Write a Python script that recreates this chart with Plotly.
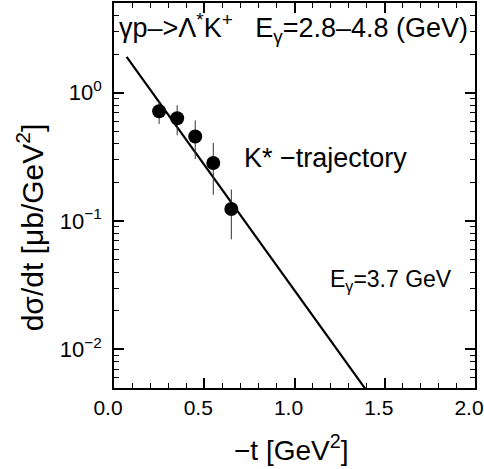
import numpy as np
import plotly.graph_objects as go

# data points
t_data = [0.25, 0.35, 0.45, 0.55, 0.65]
ds_data = [0.716, 0.632, 0.456, 0.283, 0.124]
ds_err = [0.145, 0.166, 0.152, 0.123, 0.052]

# K* trajectory model line (endpoints)
t_model = [0.07, 1.45]
ds_model = [1.90, 0.0038]

y_tickvals = [0.01, 0.1, 1.0]
y_ticktext = ["10<sup>−2</sup>", "10<sup>−1</sup>", "10<sup>0</sup>"]

FONT = "Liberation Sans, Arial, Helvetica, sans-serif"

fig = go.Figure()
fig.add_trace(go.Scatter(x=t_model, y=ds_model, mode="lines",
                         line=dict(color="black", width=2.2), showlegend=False))
fig.add_trace(go.Scatter(x=t_data, y=ds_data, mode="markers",
                         marker=dict(color="black", size=14),
                         error_y=dict(type="data", array=ds_err, color="#333",
                                      thickness=1, width=0),
                         showlegend=False))

fig.update_layout(
    width=484, height=469,
    margin=dict(l=114, r=9, t=3, b=81),
    plot_bgcolor="white", paper_bgcolor="white",
    font=dict(family=FONT, color="black", size=22),
    xaxis=dict(range=[0, 2], tickmode="linear", tick0=0, dtick=0.5, tickformat=".1f",
               ticks="inside", ticklen=10, tickwidth=1.5, tickcolor="black",
               showline=True, linecolor="black", linewidth=1.5, mirror="allticks",
               showgrid=False, zeroline=False, ticklabeloverflow="allow", automargin=False,
               ticklabelshift=-6,
               minor=dict(dtick=0.1, tick0=0, ticks="inside", ticklen=5, tickwidth=1.3,
                          tickcolor="black", showgrid=False),
               tickfont=dict(size=21)),
    yaxis=dict(type="log", range=[np.log10(0.005), np.log10(5)],
               tickvals=y_tickvals, ticktext=y_ticktext,
               ticks="inside", ticklen=10, tickwidth=1.5, tickcolor="black",
               showline=True, linecolor="black", linewidth=1.5, mirror="allticks",
               showgrid=False, zeroline=False, automargin=False, ticklabelstandoff=6,
               minor=dict(dtick="D1", ticks="inside", ticklen=5, tickwidth=1.3,
                          tickcolor="black", showgrid=False),
               tickfont=dict(size=22)),
)

# axis titles
fig.add_annotation(xref="paper", yref="paper", x=0.49, y=-0.155, xanchor="center", yanchor="middle",
                   text="−t [GeV<sup>2</sup>]", showarrow=False, font=dict(size=28))
fig.add_annotation(xref="paper", yref="paper", x=-0.232, y=0.418, xanchor="center", yanchor="middle",
                   text="dσ/dt [μb/GeV<sup>2</sup>]", textangle=-90, showarrow=False,
                   font=dict(size=30))

# labels
fig.add_annotation(xref="paper", yref="paper", x=0.008, y=0.935, xanchor="left", yanchor="middle",
                   text="γp–>Λ<sup>*</sup>K<sup>+</sup>   E<sub>γ</sub>=2.8–4.8 (GeV)",
                   showarrow=False, font=dict(size=27))
fig.add_annotation(xref="paper", yref="paper", x=0.355, y=0.598, xanchor="left", yanchor="middle",
                   text="K* −trajectory", showarrow=False, font=dict(size=27))
fig.add_annotation(xref="paper", yref="paper", x=0.592, y=0.28, xanchor="left", yanchor="middle",
                   text="E<sub>γ</sub>=3.7 GeV", showarrow=False, font=dict(size=23))

fig.write_html("out.html")
